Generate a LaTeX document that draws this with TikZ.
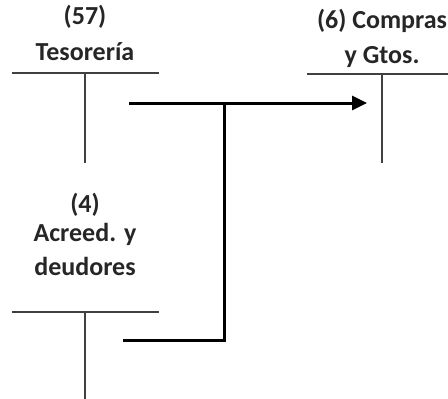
\documentclass[tikz,border=0pt]{standalone}
\usepackage{fontspec}
\setmainfont{Carlito}
\usetikzlibrary{arrows.meta}

\begin{document}
\begin{tikzpicture}[x=1pt, y=-1pt,
    title/.style={font=\fontsize{26}{30}\selectfont\bfseries, text=black!85, inner sep=0pt},
    tline/.style={draw=black!75, line width=2pt},
    flow/.style={draw=black, line width=3pt},
    arrow/.style={-{Triangle[length=15pt, width=14pt]}, line width=3pt}
]
    \useasboundingbox (0,0) rectangle (448,399);

    % === Tesoreria ===
    \node[title] (tesnum) at (85,17) {(57)};
    \node[title] (tesname) at (85,52) {Tesorería};
    \coordinate (tesL) at (12,73);
    \coordinate (tesR) at (159,73);
    \coordinate (tesT) at (85,73);
    \coordinate (tesB) at (85,163);
    \draw[tline] (tesL) -- (tesR);
    \draw[tline] (tesT) -- (tesB);

    % === Compras y Gtos. ===
    \node[title] (comname) at (382,21) {(6) Compras};
    \node[title] (comsub) at (382,57) {y Gtos.};
    \coordinate (comL) at (307,74);
    \coordinate (comR) at (448,74);
    \coordinate (comT) at (382,74);
    \coordinate (comB) at (382,163);
    \draw[tline] (comL) -- (comR);
    \draw[tline] (comT) -- (comB);

    % === Acreed. y deudores ===
    \node[title] (acrnum) at (85,205) {(4)};
    \node[title] (acrname) at (85,234) {Acreed. y};
    \node[title] (acrsub) at (85,266) {deudores};
    \coordinate (acrL) at (12,312);
    \coordinate (acrR) at (159,312);
    \coordinate (acrT) at (85,312);
    \coordinate (acrB) at (85,399);
    \draw[tline] (acrL) -- (acrR);
    \draw[tline] (acrT) -- (acrB);

    % === Flows ===
    \coordinate (tesout) at (129,103);
    \coordinate (comin) at (367,103);
    \coordinate (acrout) at (123,340);
    \coordinate (join) at (224,103);
    \draw[arrow] (tesout) -- (comin);
    \draw[flow] (acrout) -| (join);

\end{tikzpicture}
\end{document}
